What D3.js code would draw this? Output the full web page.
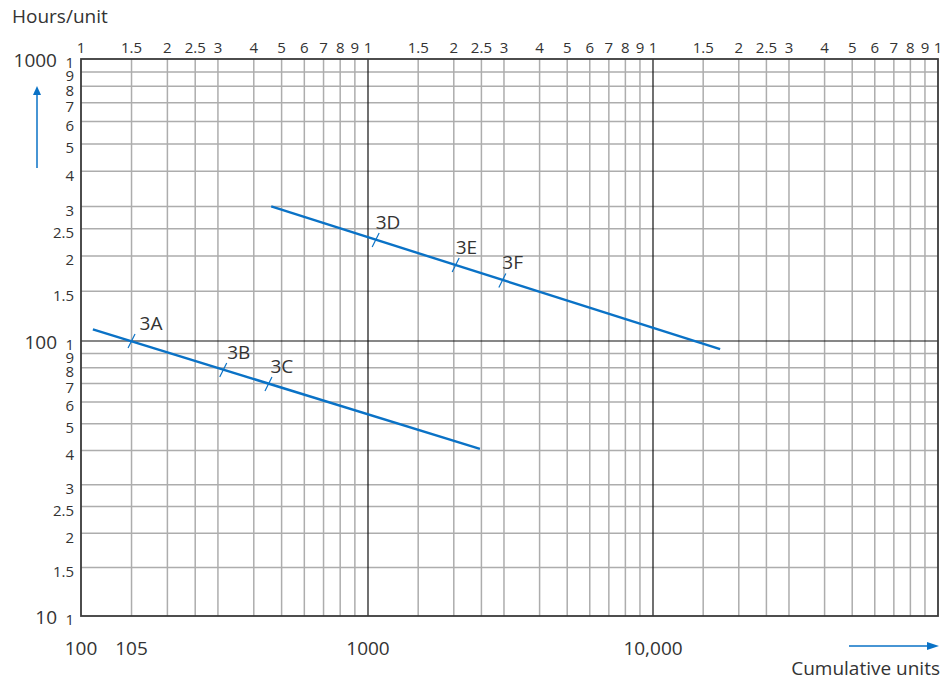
<!DOCTYPE html>
<html>
<head>
<meta charset="utf-8">
<script src="https://cdn.jsdelivr.net/npm/d3@7"></script>
<style>
  html, body { margin: 0; padding: 0; background: #fff; }
  svg { display: block; font-family: "Open Sans", "Noto Sans", sans-serif; }
</style>
</head>
<body>
<svg id="chart" width="949" height="681"></svg>
<script>
// Learning curves on log-log paper: cumulative units vs hours per unit
const curveA = [ { units: 110, hours: 110 }, { units: 2470, hours: 40.5 } ];
const curveB = [ { units: 460, hours: 300 }, { units: 17200, hours: 93.5 } ];

const milestoneNames = ["3A", "3B", "3C", "3D", "3E", "3F"];
const milestoneUnits = [150, 313, 450, 1064, 2030, 2960];
const milestoneHours = [100, 78.5, 69.8, 228, 186, 164];

// Log-cycle paper: multipliers within each decade
const cycleMultipliers = [1, 1.5, 2, 2.5, 3, 4, 5, 6, 7, 8, 9];
const xDecades = [100, 1000, 10000];
const yDecades = [10, 100];
const xEnd = 100000;
const yEnd = 1000;
const xMainLabels = ["100", "105", "1000", "10,000"];
const xMainValues = [100, 150, 1000, 10000];
const yMainLabels = ["10", "100", "1000"];
const yMainValues = [10, 100, 1000];

const svg = d3.select("#chart");
const textColor = "#333";
const blue = "#0a72c6";

const x = d3.scaleLog().domain([100, 1000, 10000, 100000]).range([81, 368, 653, 938]);
const y = d3.scaleLog().domain([10, 100, 1000]).range([616, 341, 59]);

const xGrid = xDecades.flatMap(d => cycleMultipliers.map(m => ({ v: d * m, m })));
const yGrid = yDecades.flatMap(d => cycleMultipliers.map(m => ({ v: d * m, m })));

// minor grid
const grid = svg.append("g");
grid.selectAll("line.vx").data(xGrid.filter(g => g.m !== 1)).join("line")
  .attr("x1", d => x(d.v)).attr("x2", d => x(d.v))
  .attr("y1", y(yEnd)).attr("y2", y(10))
  .attr("stroke", "#adadad").attr("stroke-width", 1.5);
grid.selectAll("line.hy").data(yGrid.filter(g => g.m !== 1)).join("line")
  .attr("y1", d => y(d.v)).attr("y2", d => y(d.v))
  .attr("x1", x(100)).attr("x2", x(xEnd))
  .attr("stroke", "#adadad").attr("stroke-width", 1.5);

// decade lines
grid.selectAll("line.dx").data([1000, 10000]).join("line")
  .attr("x1", d => x(d)).attr("x2", d => x(d))
  .attr("y1", y(yEnd)).attr("y2", y(10))
  .attr("stroke", "#111").attr("stroke-width", 1.2);
grid.selectAll("line.dy").data([100]).join("line")
  .attr("y1", d => y(d)).attr("y2", d => y(d))
  .attr("x1", x(100)).attr("x2", x(xEnd))
  .attr("stroke", "#111").attr("stroke-width", 1.2);

// frame
svg.append("rect")
  .attr("x", x(100)).attr("y", y(yEnd))
  .attr("width", x(xEnd) - x(100)).attr("height", y(10) - y(yEnd))
  .attr("fill", "none").attr("stroke", "#3a3a3a").attr("stroke-width", 1.8);

// cycle labels along the top
const topTicks = xGrid.concat([{ v: xEnd, m: 1 }]);
svg.append("g").selectAll("text").data(topTicks).join("text")
  .attr("x", d => x(d.v)).attr("y", 53)
  .attr("text-anchor", "middle")
  .attr("font-size", 15).attr("fill", textColor)
  .text(d => d.m);

// cycle labels down the left side
const sideTicks = yGrid.concat([{ v: yEnd, m: 1 }]);
svg.append("g").selectAll("text").data(sideTicks).join("text")
  .attr("x", 74).attr("y", d => y(d.v))
  .attr("dy", "0.62em")
  .attr("text-anchor", "end")
  .attr("font-size", 15).attr("fill", textColor)
  .text(d => d.m);

// main value labels
svg.append("g").selectAll("text").data(yMainValues).join("text")
  .attr("x", 57).attr("y", d => y(d) + 8)
  .attr("text-anchor", "end")
  .attr("font-size", 19).attr("fill", textColor)
  .text((d, i) => yMainLabels[i]);
svg.append("g").selectAll("text").data(xMainValues).join("text")
  .attr("x", d => x(d)).attr("y", 655)
  .attr("text-anchor", "middle")
  .attr("font-size", 19).attr("fill", textColor)
  .text((d, i) => xMainLabels[i]);

// axis titles and arrows
svg.append("text").attr("x", 12).attr("y", 23)
  .attr("font-size", 19).attr("fill", textColor).text("Hours/unit");
svg.append("text").attr("x", 940).attr("y", 675).attr("text-anchor", "end")
  .attr("font-size", 19).attr("fill", textColor).text("Cumulative units");

svg.append("line").attr("x1", 37).attr("x2", 37).attr("y1", 168).attr("y2", 94)
  .attr("stroke", blue).attr("stroke-width", 1.5);
svg.append("path").attr("d", "M37,86 L33,95 L41,95 Z").attr("fill", blue);
svg.append("line").attr("x1", 849).attr("x2", 928).attr("y1", 646).attr("y2", 646)
  .attr("stroke", blue).attr("stroke-width", 1.5);
svg.append("path").attr("d", "M939,646 L927,642 L927,650 Z").attr("fill", blue);

// curves
const line = d3.line().x(d => x(d.units)).y(d => y(d.hours));
[curveA, curveB].forEach(c => {
  svg.append("path").datum(c).attr("d", line)
    .attr("fill", "none").attr("stroke", blue).attr("stroke-width", 2.4);
});

// milestone ticks and labels
const milestones = milestoneNames.map((n, i) => ({ name: n, units: milestoneUnits[i], hours: milestoneHours[i] }));
const nudge = { "3A": 8, "3B": 4, "3C": 2 };
const mg = svg.append("g");
mg.selectAll("line").data(milestones).join("line")
  .attr("x1", d => x(d.units) - 3.5).attr("y1", d => y(d.hours) + 7)
  .attr("x2", d => x(d.units) + 3.5).attr("y2", d => y(d.hours) - 7)
  .attr("stroke", blue).attr("stroke-width", 1.2);
mg.selectAll("text").data(milestones).join("text")
  .attr("x", d => x(d.units) + (nudge[d.name] || 0))
  .attr("y", d => y(d.hours) - 11)
  .attr("font-size", 19).attr("fill", textColor)
  .text(d => d.name);
</script>
</body>
</html>
